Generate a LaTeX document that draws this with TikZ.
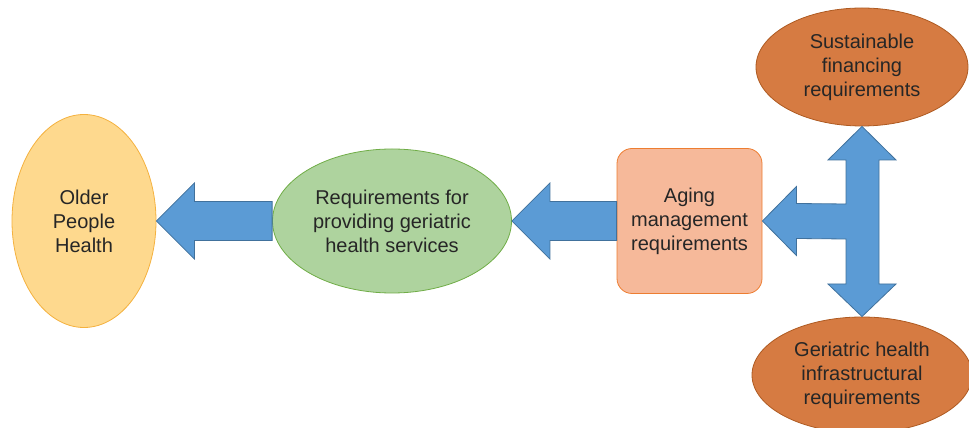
\documentclass[tikz,border=0pt]{standalone}
\usepackage{fontspec}
\setmainfont{Liberation Sans}
\usepackage{tikz}
\usepackage{xcolor}
\usetikzlibrary{shapes,calc}

\definecolor{oldfill}{HTML}{FED98E}
\definecolor{olddraw}{HTML}{F4B13E}
\definecolor{reqfill}{HTML}{AED39E}
\definecolor{reqdraw}{HTML}{70AD47}
\definecolor{agefill}{HTML}{F6B99A}
\definecolor{agedraw}{HTML}{ED7D31}
\definecolor{subfill}{HTML}{D67B42}
\definecolor{subdraw}{HTML}{AE5A21}
\definecolor{arrfill}{HTML}{5B9BD5}
\definecolor{arrdraw}{HTML}{41719C}

\begin{document}
\begin{tikzpicture}
  [x=1pt,y=1pt,line width=0.8pt,
   every node/.style={font=\fontsize{20}{24}\selectfont,align=center,text=black!85,inner sep=0pt},
   oval/.style={ellipse,draw},
   blockarrow/.style={fill=arrfill,draw=arrdraw,line join=miter}]
  \useasboundingbox (0,0) rectangle (969,428);
  \clip (0,0) rectangle (969,428);

  \node[oval,fill=oldfill,draw=olddraw,minimum width=144,minimum height=213] (older) at (84,207) {Older\\People\\Health};
  \node[oval,fill=reqfill,draw=reqdraw,minimum width=239,minimum height=144] (green) at (392,207) {Requirements for\\providing geriatric\\health services};
  \node[rectangle,rounded corners=15,draw=agedraw,fill=agefill,minimum width=145,minimum height=145] (aging) at (689.5,207) {Aging\\management\\requirements};
  \node[oval,fill=subfill,draw=subdraw,minimum width=212,minimum height=118] (fin) at (862,361) {Sustainable\\financing\\requirements};
  \node[oval,fill=subfill,draw=subdraw,minimum width=220,minimum height=116] (infra) at (862,53) {Geriatric health\\infrastructural\\requirements};

  \foreach \from/\to in {older/green,green/aging}
    \draw[blockarrow] (\from.east) -- ++(38,38) -- ++(0,-18.5)
      -- ($(\to.west)+(0,19.5)$) -- ($(\to.west)+(0,-19.5)$)
      -- ($(\from.east)+(38,-19.5)$) -- ++(0,-18.5) -- cycle;

  % three way arrow
  \draw[blockarrow] (aging.east) -- ++(34,34.5) -- ++(0,-17) -- (846,224)
    -- (846,268) -- (828,268) -- (fin.south) -- (896,268) -- (879,268)
    -- (879,144) -- (896,144) -- (infra.north) -- (828,144) -- (846,144)
    -- (846,189) -- ($(aging.east)+(34,-17.5)$) -- ++(0,-17) -- cycle;

\end{tikzpicture}
\end{document}
